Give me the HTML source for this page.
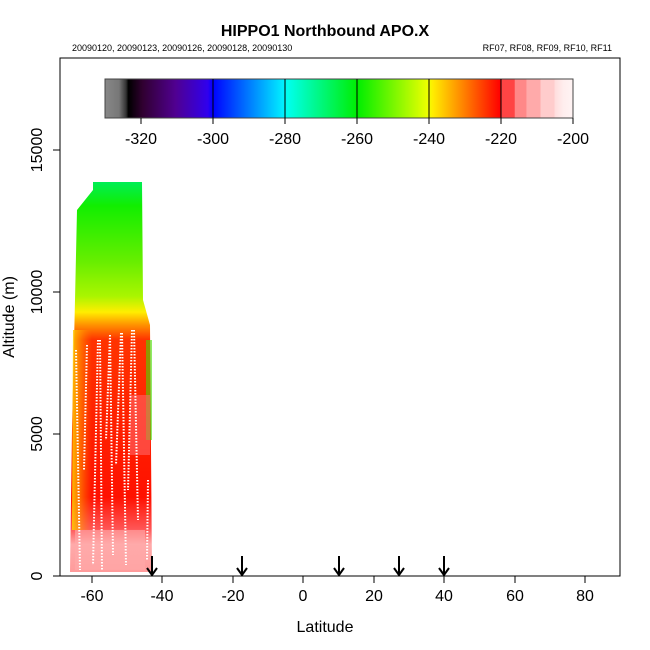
<!DOCTYPE html>
<html><head><style>body{margin:0;background:#fff}svg{display:block}text{font-family:"Liberation Sans",Arial,sans-serif}</style></head><body>
<svg width="650" height="650" viewBox="0 0 650 650" xmlns="http://www.w3.org/2000/svg">
<defs>
<linearGradient id="cb" x1="0" x2="1" y1="0" y2="0">
<stop offset="0" stop-color="#888"/><stop offset="0.03" stop-color="#777"/><stop offset="0.045" stop-color="#333"/><stop offset="0.05" stop-color="#000"/>
<stop offset="0.08" stop-color="#300030"/><stop offset="0.15" stop-color="#500090"/><stop offset="0.22" stop-color="#3000ee"/><stop offset="0.23" stop-color="#0000ff"/>
<stop offset="0.38" stop-color="#00eeff"/><stop offset="0.39" stop-color="#00ffee"/><stop offset="0.54" stop-color="#00ee00"/>
<stop offset="0.69" stop-color="#eeff00"/><stop offset="0.70" stop-color="#ffee00"/><stop offset="0.845" stop-color="#ff0000"/>
<stop offset="0.846" stop-color="#ff4444"/><stop offset="0.875" stop-color="#ff4444"/><stop offset="0.876" stop-color="#ff8888"/><stop offset="0.9" stop-color="#ff8888"/>
<stop offset="0.901" stop-color="#ffaaaa"/><stop offset="0.93" stop-color="#ffaaaa"/><stop offset="0.931" stop-color="#ffcccc"/><stop offset="0.96" stop-color="#ffcccc"/>
<stop offset="0.961" stop-color="#ffdddd"/><stop offset="0.98" stop-color="#ffeeee"/><stop offset="1" stop-color="#fff4f4"/>
</linearGradient>
<linearGradient id="dg" x1="0" x2="0" y1="182" y2="576" gradientUnits="userSpaceOnUse">
<stop offset="0" stop-color="#00ee55"/><stop offset="0.06" stop-color="#11ee00"/><stop offset="0.2" stop-color="#66ee00"/>
<stop offset="0.29" stop-color="#aaf500"/><stop offset="0.33" stop-color="#ffee00"/><stop offset="0.36" stop-color="#ff9900"/>
<stop offset="0.4" stop-color="#ff3300"/><stop offset="0.8" stop-color="#ff1100"/><stop offset="0.88" stop-color="#ff5555"/><stop offset="0.92" stop-color="#ffaaaa"/><stop offset="1" stop-color="#ff9999"/>
</linearGradient>
<linearGradient id="lg" x1="0" x2="1" y1="0" y2="0">
<stop offset="0" stop-color="#ffcc00" stop-opacity="0.9"/><stop offset="1" stop-color="#ff8800" stop-opacity="0"/>
</linearGradient>
</defs>
<text x="325" y="36" text-anchor="middle" font-size="16" font-weight="bold">HIPPO1 Northbound APO.X</text>
<text x="72" y="51" font-size="9">20090120, 20090123, 20090126, 20090128, 20090130</text>
<text x="612" y="51" font-size="9" text-anchor="end">RF07, RF08, RF09, RF10, RF11</text>
<rect x="60" y="58" width="560" height="518" fill="none" stroke="#000"/>
<path d="M93,182 L142,182 L143,300 L150,325 L152,572 L70,572 L72,430 L75,300 L77,210 L93,190 Z" fill="url(#dg)"/>
<path d="M73,330 L92,330 L92,530 L72,530 Z" fill="url(#lg)"/>
<rect x="146" y="340" width="6" height="100" fill="#44dd00" opacity="0.6"/>
<rect x="130" y="395" width="20" height="60" fill="#ff6666" opacity="0.6"/>
<rect x="75" y="530" width="70" height="40" fill="#ffaaaa" opacity="0.6"/>
<g stroke="#fff" stroke-width="2" stroke-dasharray="1.5,1.5" fill="none">
<path d="M76,350 L80,570"/><path d="M87,345 L84,470"/><path d="M98,340 L93,565"/><path d="M100,340 L102,570"/>
<path d="M110,335 L106,440"/><path d="M110,335 L113,555"/><path d="M121,333 L116,465"/><path d="M122,333 L126,565"/>
<path d="M132,330 L128,490"/><path d="M134,330 L138,520"/><path d="M148,480 L147,560"/>
</g>
<rect x="105" y="79" width="468" height="39" fill="url(#cb)" stroke="#444"/>
<g stroke="#000" stroke-width="1">
<line x1="213" y1="79" x2="213" y2="118"/><line x1="285" y1="79" x2="285" y2="118"/><line x1="357" y1="79" x2="357" y2="118"/><line x1="429" y1="79" x2="429" y2="118"/><line x1="501" y1="79" x2="501" y2="118"/>
<line x1="141" y1="118" x2="141" y2="124"/><line x1="213" y1="118" x2="213" y2="124"/><line x1="285" y1="118" x2="285" y2="124"/><line x1="357" y1="118" x2="357" y2="124"/><line x1="429" y1="118" x2="429" y2="124"/><line x1="501" y1="118" x2="501" y2="124"/><line x1="573" y1="118" x2="573" y2="124"/>
</g>
<g font-size="16" text-anchor="middle">
<text x="141" y="144">-320</text><text x="213" y="144">-300</text><text x="285" y="144">-280</text><text x="357" y="144">-260</text><text x="429" y="144">-240</text><text x="501" y="144">-220</text><text x="573" y="144">-200</text>
</g>
<g stroke="#000" stroke-width="1">
<line x1="92" y1="576" x2="92" y2="583"/><line x1="162" y1="576" x2="162" y2="583"/><line x1="233" y1="576" x2="233" y2="583"/><line x1="303" y1="576" x2="303" y2="583"/><line x1="374" y1="576" x2="374" y2="583"/><line x1="444" y1="576" x2="444" y2="583"/><line x1="515" y1="576" x2="515" y2="583"/><line x1="585" y1="576" x2="585" y2="583"/>
<line x1="53" y1="576" x2="60" y2="576"/><line x1="53" y1="434" x2="60" y2="434"/><line x1="53" y1="292" x2="60" y2="292"/><line x1="53" y1="150" x2="60" y2="150"/>
</g>
<g font-size="16" text-anchor="middle">
<text x="92" y="601">-60</text><text x="162" y="601">-40</text><text x="233" y="601">-20</text><text x="303" y="601">0</text><text x="374" y="601">20</text><text x="444" y="601">40</text><text x="515" y="601">60</text><text x="585" y="601">80</text>
<text x="325" y="632">Latitude</text>
</g>
<g font-size="16" text-anchor="middle">
<text transform="translate(42,576) rotate(-90)">0</text><text transform="translate(42,434) rotate(-90)">5000</text><text transform="translate(42,292) rotate(-90)">10000</text><text transform="translate(42,150) rotate(-90)">15000</text>
<text transform="translate(14,317) rotate(-90)">Altitude (m)</text>
</g>
<g stroke="#000" stroke-width="2" fill="none">
<path d="M152,556 V575 M147,568 L152,575 L157,568"/>
<path d="M242,556 V575 M237,568 L242,575 L247,568"/>
<path d="M339,556 V575 M334,568 L339,575 L344,568"/>
<path d="M399,556 V575 M394,568 L399,575 L404,568"/>
<path d="M444,556 V575 M439,568 L444,575 L449,568"/>
</g>
</svg>
</body></html>
